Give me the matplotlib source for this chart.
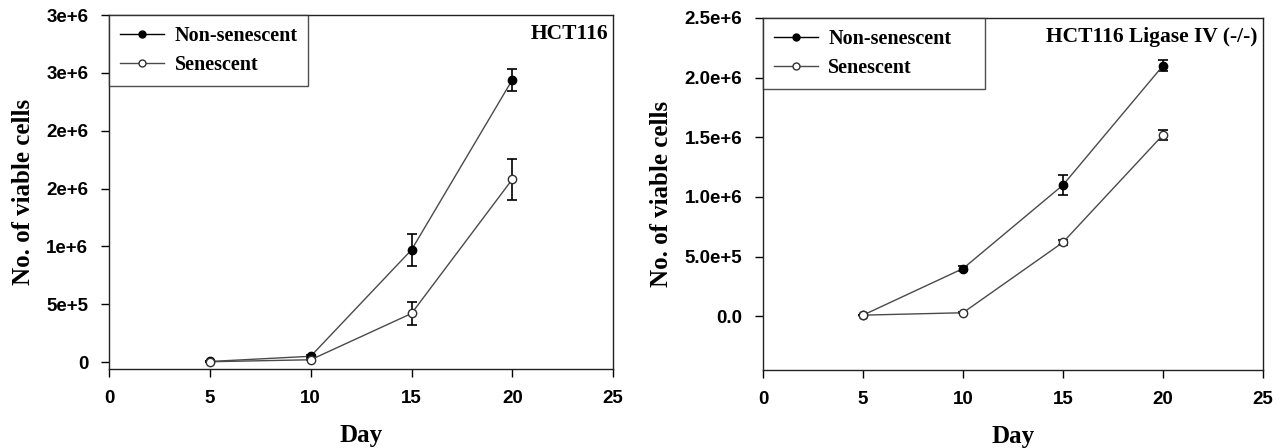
import numpy as np
import matplotlib
matplotlib.use('Agg')
import matplotlib.pyplot as plt
from matplotlib.lines import Line2D

# Data (cells vs day)
days = [5, 10, 15, 20]

# HCT116
hct_non_sen = [0.005e6, 0.05e6, 0.97e6, 2.44e6]
hct_non_sen_err = [0.0, 0.01e6, 0.14e6, 0.095e6]
hct_sen = [0.003e6, 0.02e6, 0.42e6, 1.58e6]
hct_sen_err = [0.0, 0.005e6, 0.10e6, 0.175e6]
hct_yticks = [0, 0.5e6, 1.0e6, 1.5e6, 2.0e6, 2.5e6, 3.0e6]
hct_yticklabels = ['0', '5e+5', '1e+6', '2e+6', '2e+6', '3e+6', '3e+6']

# HCT116 Ligase IV (-/-)
lig_non_sen = [0.01e6, 0.40e6, 1.10e6, 2.10e6]
lig_non_sen_err = [0.0, 0.02e6, 0.08e6, 0.045e6]
lig_sen = [0.01e6, 0.03e6, 0.62e6, 1.52e6]
lig_sen_err = [0.0, 0.005e6, 0.02e6, 0.045e6]
lig_yticks = [0, 0.5e6, 1.0e6, 1.5e6, 2.0e6, 2.5e6]
lig_yticklabels = ['0.0', '5.0e+5', '1.0e+6', '1.5e+6', '2.0e+6', '2.5e+6']

xticks = [0, 5, 10, 15, 20, 25]
series_names = ['Non-senescent', 'Senescent']

serif = 'Liberation Serif'
sans = 'Liberation Sans'
line_col = '#4a4a4a'

fig = plt.figure(figsize=(12.86, 4.48), dpi=100)
ax1 = fig.add_axes([0.0848, 0.1763, 0.392, 0.7902])
ax2 = fig.add_axes([0.5933, 0.174, 0.3888, 0.786])


def panel(ax, ns, ns_err, s, s_err, yticks, ylabels, ylim, title, legbox):
    ax.errorbar(days, ns, yerr=ns_err, color=line_col, lw=1.0, marker='o',
                markersize=6, mfc='black', mec='black', ecolor='black',
                elinewidth=1.2, capsize=3.8, capthick=1.2, zorder=3)
    ax.errorbar(days, s, yerr=s_err, color=line_col, lw=1.0, marker='o',
                markersize=6, mfc='white', mec='#303030', ecolor='black',
                elinewidth=1.2, capsize=3.8, capthick=1.2, zorder=3)
    ax.set_xlim(0, 25)
    ax.set_ylim(*ylim)
    ax.set_xticks(xticks)
    ax.set_xticklabels([str(t) for t in xticks], family=sans, fontweight='bold', size=13.5)
    ax.set_yticks(yticks)
    ax.set_yticklabels(ylabels, family=sans, fontweight='bold', size=13.5)
    ax.tick_params(direction='out', length=6, width=1, pad=9)
    for sp in ax.spines.values():
        sp.set_linewidth(1.0)
        sp.set_color('#222222')
    ax.set_xlabel('Day', family=serif, fontweight='bold', size=18, labelpad=12)
    ax.set_ylabel('No. of viable cells', family=serif, fontweight='bold', size=18, labelpad=8)
    ax.text(0.99, 0.975, title, transform=ax.transAxes, ha='right', va='top',
            family=serif, fontweight='bold', size=15.5)
    handles = [Line2D([], [], color='black', lw=1.0, marker='o', markersize=5,
                      mfc='black', mec='black'),
               Line2D([], [], color=line_col, lw=1.0, marker='o', markersize=5,
                      mfc='white', mec='#303030')]
    leg = ax.legend(handles, series_names, loc='upper left', bbox_to_anchor=legbox,
                    mode='expand', frameon=True, fancybox=False, borderaxespad=0,
                    prop={'family': serif, 'weight': 'bold', 'size': 14.5},
                    handlelength=2.2, handletextpad=0.5, labelspacing=0.45,
                    borderpad=0.55)
    leg.get_frame().set_edgecolor('#222222')
    leg.get_frame().set_linewidth(1.0)


panel(ax1, hct_non_sen, hct_non_sen_err, hct_sen, hct_sen_err,
      hct_yticks, hct_yticklabels, (-0.06e6, 3.0e6), 'HCT116', (0, 1, 0.395, 0))
panel(ax2, lig_non_sen, lig_non_sen_err, lig_sen, lig_sen_err,
      lig_yticks, lig_yticklabels, (-0.45e6, 2.5e6), 'HCT116 Ligase IV (-/-)', (0, 1, 0.444, 0))

fig.savefig('out.png', dpi=100)
